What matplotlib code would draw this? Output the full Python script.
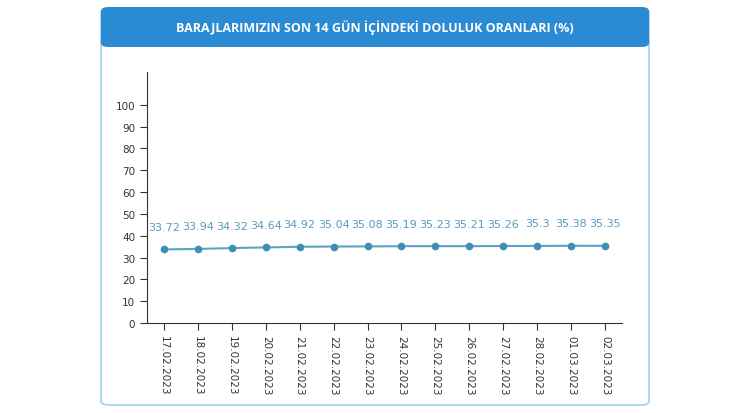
import matplotlib
matplotlib.use("Agg")
import matplotlib.pyplot as plt
from matplotlib.patches import FancyBboxPatch

dates = ["17.02.2023","18.02.2023","19.02.2023","20.02.2023","21.02.2023","22.02.2023","23.02.2023",
         "24.02.2023","25.02.2023","26.02.2023","27.02.2023","28.02.2023","01.03.2023","02.03.2023"]
values = [33.72,33.94,34.32,34.64,34.92,35.04,35.08,35.19,35.23,35.21,35.26,35.3,35.38,35.35]
labels = ["33.72","33.94","34.32","34.64","34.92","35.04","35.08","35.19","35.23","35.21","35.26","35.3","35.38","35.35"]
yticks = [0,10,20,30,40,50,60,70,80,90,100]
title = "BARAJLARIMIZIN SON 14 GÜN İÇİNDEKİ DOLULUK ORANLARI (%)"

fig = plt.figure(figsize=(7.5,4.14), dpi=100)
fig.patch.set_facecolor("white")
W, H = 750, 414
card = FancyBboxPatch((101/W, 8/H), 548/W, 396/H, boxstyle="round,pad=0,rounding_size=0.01",
                      transform=fig.transFigure, facecolor="white", edgecolor="#9fd0ee", lw=1.2, zorder=0)
fig.patches.append(card)
hdr = FancyBboxPatch((101/W, 1-48/H), 548/W, 40/H, boxstyle="round,pad=0,rounding_size=0.01",
                     transform=fig.transFigure, facecolor="#2a8ad4", edgecolor="none", zorder=0)
fig.patches.append(hdr)
fig.text(375/W, 1-28/H, title, color="white", fontsize=9, fontweight="bold",
         ha="center", va="center", family="Open Sans")

ax = fig.add_axes([147/W, 1-324/H, 475/W, 251/H])
ax.set_zorder(5)
ax.patch.set_alpha(0)
x = list(range(len(values)))
ax.plot(x, values, color="#5fa3c2", lw=1.5, marker="o", ms=4.5, mfc="#3f8fb5", mec="#3f8fb5")
for xi, v, l in zip(x, values, labels):
    ax.text(xi, v + 8, l, ha="center", va="bottom", fontsize=8, color="#5a9bbd")
ax.set_xlim(-0.5, 13.5)
ax.set_ylim(0, 115)
ax.set_yticks(yticks)
ax.set_xticks(x)
ax.set_xticklabels(dates, rotation=-90, fontsize=7.5, color="#333333")
ax.tick_params(axis="y", labelsize=7.5, colors="#333333")
ax.tick_params(length=5, color="#333333")
for s in ["top","right"]:
    ax.spines[s].set_visible(False)
ax.spines["left"].set_color("#333333")
ax.spines["bottom"].set_color("#333333")
fig.savefig("out.png", dpi=100)
